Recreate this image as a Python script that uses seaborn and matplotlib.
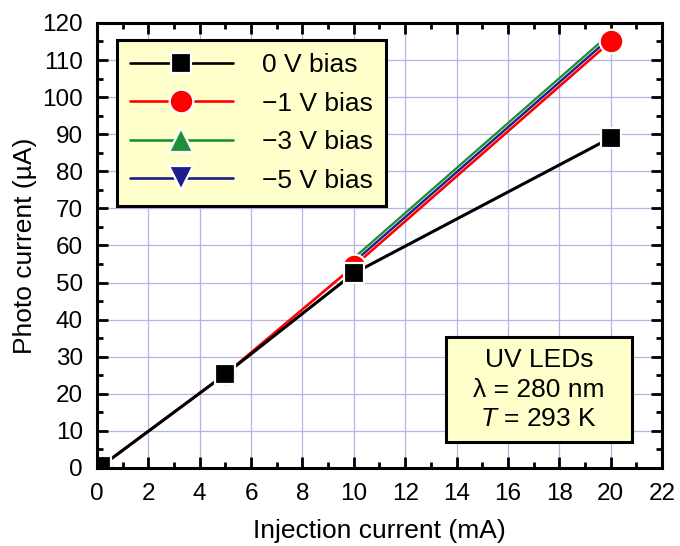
import matplotlib
matplotlib.use("Agg")
import matplotlib.pyplot as plt
from matplotlib.lines import Line2D
from matplotlib.patches import Rectangle
import seaborn as sns
import numpy as np

# Data
x_0v = [0.15, 5, 10, 20]
y_0v = [0.4, 25.3, 52.5, 89]
x_1v = [0.15, 5, 10, 20]
y_1v = [0.4, 25.3, 54.4, 115]
x_3v = [10, 20]
y_3v = [56.6, 117.2]
x_5v = [10, 20]
y_5v = [55.5, 116.1]
labels = ["0 V bias", "\u22121 V bias", "\u22123 V bias", "\u22125 V bias"]
colors = ['black', '#ff0000', '#1f8f35', '#1c1c8a']
markers = ['s', 'o', '^', 'v']
msizes = [15, 17, 17, 17]

sns.set_style("ticks")
plt.rcParams['font.family'] = ['Liberation Sans', 'DejaVu Sans']
plt.rcParams['mathtext.fontset'] = 'custom'
plt.rcParams['mathtext.it'] = 'Liberation Sans:italic'
plt.rcParams['mathtext.rm'] = 'Liberation Sans'
for k in ['text.color', 'axes.labelcolor', 'xtick.color', 'ytick.color', 'axes.edgecolor']:
    plt.rcParams[k] = 'black'

fig = plt.figure(figsize=(6.8, 5.46), dpi=100)
ax = fig.add_axes([0.1426, 0.1429, 0.8309, 0.8151])

fs = 19
fs_tick = 17.5
lw = 1.7
mew = 1.6

# -5 V and -3 V: markers hidden under the -1 V markers
sns.lineplot(x=x_5v, y=y_5v, color=colors[3], linewidth=lw, ax=ax)
sns.lineplot(x=x_3v, y=y_3v, color=colors[2], linewidth=lw, ax=ax)
sns.lineplot(x=x_1v, y=y_1v, color=colors[1], linewidth=lw + 0.2, marker='o', markersize=msizes[1],
             markeredgecolor='white', markeredgewidth=mew, ax=ax)
sns.lineplot(x=x_0v, y=y_0v, color=colors[0], linewidth=2.2, marker='s', markersize=msizes[0],
             markeredgecolor='white', markeredgewidth=mew, ax=ax)

ax.set_xlim(0, 22)
ax.set_ylim(0, 120)
ax.set_xticks(np.arange(0, 23, 2))
ax.set_yticks(np.arange(0, 121, 10))
ax.set_xticks(np.arange(0, 23, 1), minor=True)
ax.set_yticks(np.arange(0, 121, 5), minor=True)
ax.grid(True, which='major', color='#b4b4e4', linewidth=0.9)
ax.set_axisbelow(True)

for s in ax.spines.values():
    s.set_linewidth(2.2)
    s.set_color('black')
    s.set_visible(True)
ax.tick_params(which='both', direction='in', top=True, right=True, width=2, color='black')
ax.tick_params(which='major', length=8, labelsize=fs_tick)
ax.tick_params(axis='y', which='major', pad=10)
ax.tick_params(axis='x', which='major', pad=11)
ax.tick_params(which='minor', length=4)

ax.set_xlabel("Injection current (mA)", fontsize=fs, labelpad=10)
ax.set_ylabel("Photo current (\u00b5A)", fontsize=fs, labelpad=4)

handles = [Line2D([], [], color=c, marker=m, markersize=ms, linewidth=lw + 0.2,
                  markeredgecolor='white', markeredgewidth=mew)
           for c, m, ms in zip(colors, markers, msizes)]
leg = ax.legend(handles, labels,
                loc='upper left', bbox_to_anchor=(0.035, 0.962), borderaxespad=0,
                fontsize=fs, handlelength=3.9, labelspacing=0.55, handletextpad=1.1,
                borderpad=0.5, fancybox=False, framealpha=1, facecolor='#ffffcc',
                edgecolor='black')
leg.get_frame().set_linewidth(2.2)

ax.add_patch(Rectangle((0.6177, 0.0584), 0.329, 0.236, transform=ax.transAxes,
                       facecolor='#ffffcc', edgecolor='black', linewidth=2.2, zorder=5))
ax.text(0.782, 0.176, "UV LEDs\n\u03bb = 280 nm\n$T$ = 293 K", transform=ax.transAxes,
        ha='center', va='center', fontsize=fs, linespacing=1.3, zorder=6)

fig.savefig("out.png", dpi=100)
